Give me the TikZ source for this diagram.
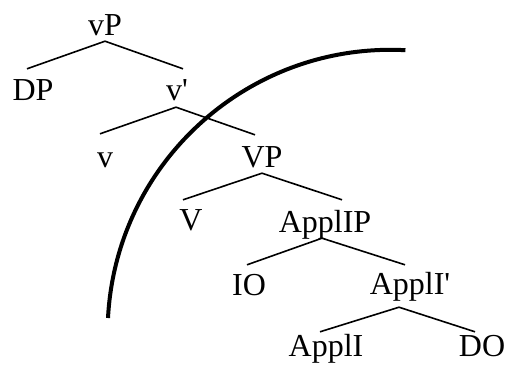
\documentclass[tikz,border=0pt]{standalone}
\usepackage{fontspec}
\setmainfont{Liberation Serif}
\begin{document}
\begin{tikzpicture}[x=1pt,y=-1pt,
  lab/.style={anchor=base,inner sep=0pt,text height=21pt,text depth=0pt,font=\fontsize{32}{36}\selectfont},
  branch/.style={line width=1.6pt,line join=miter},
  phase/.style={line width=4pt}]
\useasboundingbox (0,0) rectangle (505,364);
% nodes (pixel coordinates, y downwards; base anchor)
\node[lab] (vP) at (105,35) {vP};
\node[lab] (DP) at (33,100) {DP};
\node[lab] (vbar) at (177,100) {v\textquotesingle};
\node[lab] (v) at (105,167) {v};
\node[lab] (VP) at (262,167) {VP};
\node[lab] (V) at (191,230) {V};
\node[lab] (ApplP) at (325,232) {ApplIP};
\node[lab] (IO) at (249,295) {IO};
\node[lab] (Applbar) at (410,294) {ApplI\textquotesingle};
\node[lab] (Appl) at (326,356) {ApplI};
\node[lab] (DO) at (482,356) {DO};
% branches
\draw[branch] ([xshift=-6pt,yshift=10pt]DP.north) -- ([yshift=-6pt]vP.south) -- ([xshift=6pt,yshift=10pt]vbar.north);
\draw[branch] ([xshift=-5pt,yshift=12pt]v.north) -- ([xshift=-1pt,yshift=-7pt]vbar.south) -- ([xshift=-7pt,yshift=11pt]VP.north);
\draw[branch] ([xshift=-8pt,yshift=9pt]V.north) -- ([yshift=-6pt]VP.south) -- ([xshift=17pt,yshift=11pt]ApplP.north);
\draw[branch] ([xshift=-2pt,yshift=9pt]IO.north) -- ([xshift=-3pt,yshift=-6pt]ApplP.south) -- ([xshift=-5pt,yshift=8pt]Applbar.north);
\draw[branch] ([xshift=-6pt,yshift=3pt]Appl.north) -- ([xshift=-11pt,yshift=-13pt]Applbar.south) -- ([xshift=-7pt,yshift=3pt]DO.north);
% phase boundary
\draw[phase] (108,318) arc[start angle=177,end angle=87,radius=283pt];
\end{tikzpicture}
\end{document}
